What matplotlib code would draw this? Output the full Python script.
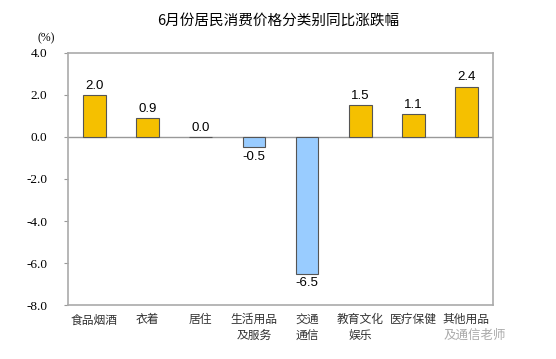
import numpy as np
import matplotlib.pyplot as plt

plt.rcParams['font.family'] = ['Noto Sans CJK SC', 'DejaVu Sans']

categories = ['食品烟酒', '衣着', '居住', '生活用品\n及服务', '交通\n通信', '教育文化\n娱乐', '医疗保健', '其他用品']
values = [2.0, 0.9, 0.0, -0.5, -6.5, 1.5, 1.1, 2.4]
yticks = [4.0, 2.0, 0.0, -2.0, -4.0, -6.0, -8.0]

fig = plt.figure(figsize=(5.56, 3.59), dpi=100)
ax = fig.add_axes([0.1223, 0.1504, 0.7644, 0.702])

x = np.arange(len(categories))
colors = ['#F5C000' if v >= 0 else '#99CCFF' for v in values]
ax.bar(x, values, width=0.43, color=colors, edgecolor='#555555', linewidth=0.8, zorder=3)
ax.axhline(0, color='#999999', linewidth=1, zorder=2)

for xi, v in zip(x, values):
    if v >= 0:
        ax.text(xi, v + 0.15, f'{v:.1f}', ha='center', va='bottom', fontsize=9.5,
                family=['Liberation Sans', 'DejaVu Sans'])
    else:
        ax.text(xi, v - 0.15, f'{v:.1f}', ha='center', va='top', fontsize=9.5,
                family=['Liberation Sans', 'DejaVu Sans'])

ax.set_xlim(-0.5, len(categories) - 0.5)
ax.set_ylim(-8, 4)
ax.set_yticks(yticks)
ax.set_yticklabels([f'{t:.1f}' for t in yticks], family=['Liberation Serif'], fontsize=9.5)
ax.set_xticks(x)
ax.set_xticklabels(categories, fontsize=8.5, color='#333333', linespacing=1.3)
ax.tick_params(axis='x', length=0, pad=6)
ax.tick_params(axis='y', length=3, color='#999999', pad=12)
for s in ax.spines.values():
    s.set_color('#AAAAAA')
    s.set_linewidth(1.2)

fig.text(0.5, 0.93, '6月份居民消费价格分类别同比涨跌幅', ha='center', fontsize=10.5)
fig.text(0.068, 0.885, '(%)', ha='left', fontsize=8.5, family=['Liberation Serif'])
# watermark
fig.text(0.91, 0.067, '及通信老师', ha='right', va='center', fontsize=9, color='#aaaaaa')

fig.savefig('out.png', dpi=100)
